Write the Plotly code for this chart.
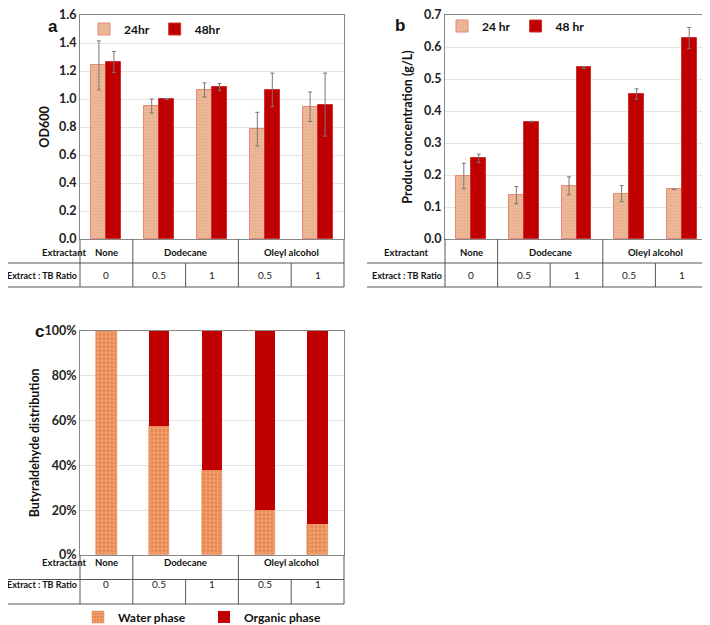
import plotly.graph_objects as go

# values
groups = [0, 1, 2, 3, 4]
extractants = ["None", "Dodecane", "Oleyl alcohol"]
extractant_pos = [0, 1.5, 3.5]
ratios = ["0", "0.5", "1", "0.5", "1"]

od_24 = [1.24, 0.95, 1.065, 0.785, 0.945]
od_24_err = [0.175, 0.05, 0.05, 0.12, 0.105]
od_48 = [1.265, 1.0, 1.085, 1.065, 0.96]
od_48_err = [0.075, 0.003, 0.025, 0.12, 0.225]

prod_24 = [0.197, 0.137, 0.166, 0.142, 0.155]
prod_24_err = [0.04, 0.027, 0.028, 0.025, 0.0]
prod_48 = [0.252, 0.367, 0.536, 0.453, 0.628]
prod_48_err = [0.013, 0.001, 0.003, 0.016, 0.033]

water = [100, 57.5, 38, 20.3, 14]
organic = [0, 42.5, 62, 79.7, 86]

# the page body has an 8px margin, so the figure is drawn 8px in from the window corner
OFF = 8
W, H = 710 - OFF, 625 - OFF
FONT = "Lato, 'Open Sans', sans-serif"
RED = "#C00000"

def px(x):
    return (x - OFF) / W

def py(y):
    return 1 - (y - OFF) / H

tan = dict(shape=".", fgcolor="#D9997A", bgcolor="#EDB897", size=3, solidity=0.25)
water_pat = dict(shape="+", fgcolor="#FAE2D2", bgcolor="#E8844A", size=4, solidity=0.35)
err = dict(type="data", color="#777", thickness=1, width=2)

fig = go.Figure()

# panel a
fig.add_trace(go.Bar(x=groups, y=od_24, name="24hr", offset=-0.284, width=0.284,
                     marker=dict(color="#EDB897", pattern=tan, line=dict(color="#E58A78", width=1)),
                     error_y=dict(array=od_24_err, **err), xaxis="x", yaxis="y", legend="legend"))
fig.add_trace(go.Bar(x=groups, y=od_48, name="48hr", offset=0, width=0.284,
                     marker=dict(color=RED, line=dict(color="#D03030", width=1)),
                     error_y=dict(array=od_48_err, **err), xaxis="x", yaxis="y", legend="legend"))

# panel b
fig.add_trace(go.Bar(x=groups, y=prod_24, name="24 hr", offset=-0.285, width=0.285,
                     marker=dict(color="#EDB897", pattern=tan, line=dict(color="#E58A78", width=1)),
                     error_y=dict(array=prod_24_err, **err), xaxis="x2", yaxis="y2", legend="legend2"))
fig.add_trace(go.Bar(x=groups, y=prod_48, name="48 hr", offset=0, width=0.285,
                     marker=dict(color=RED, line=dict(color="#D03030", width=1)),
                     error_y=dict(array=prod_48_err, **err), xaxis="x2", yaxis="y2", legend="legend2"))

# panel c (stacked via base)
fig.add_trace(go.Bar(x=groups, y=water, name="Water phase", width=0.385,
                     marker=dict(color="#E8844A", pattern=water_pat, line=dict(color="#E08050", width=0.5)),
                     xaxis="x3", yaxis="y3", legend="legend3"))
fig.add_trace(go.Bar(x=groups, y=organic, base=water, name="Organic phase", width=0.385,
                     marker=dict(color=RED, line=dict(width=0)),
                     xaxis="x3", yaxis="y3", legend="legend3"))

xa = dict(range=[-0.5, 4.5], showticklabels=False, ticks="", showgrid=False, zeroline=False,
          showline=True, linecolor="#888", mirror=True, fixedrange=True, automargin=False)
ya = dict(ticks="", showgrid=True, gridcolor="#E4E4E4", zeroline=False, showline=True, automargin=False,
          ticklabeloverflow="allow", linecolor="#888", mirror=True,
          tickfont=dict(size=12.5, color="#222", family=FONT, weight="bold"),
          title_font=dict(size=12.5, color="#111", family=FONT, weight="bold"))

dom_a = [px(80), px(344)]
dom_b = [px(445), px(708)]
lfont = dict(size=12, family=FONT, weight="bold")
fig.update_layout(
    width=W, height=H, margin=dict(l=0, r=0, t=0, b=0, autoexpand=False),
    paper_bgcolor="white", plot_bgcolor="white",
    font=dict(family=FONT, color="#111"),
    barmode="overlay", bargap=0,
    xaxis=dict(domain=dom_a, anchor="y", **xa),
    yaxis=dict(domain=[py(239), py(15)], anchor="x", range=[0, 1.6001], dtick=0.2, tickformat=".1f",
               title=dict(text="OD600", standoff=6), **ya),
    xaxis2=dict(domain=dom_b, anchor="y2", **xa),
    yaxis2=dict(domain=[py(239), py(15)], anchor="x2", range=[0, 0.70001], dtick=0.1, tickformat=".1f",
                title=dict(text="Product concentration (g/L)", standoff=8), **ya),
    xaxis3=dict(domain=dom_a, anchor="y3", **xa),
    yaxis3=dict(domain=[py(555), py(330.7)], anchor="x3", range=[0, 100.001], dtick=20, ticksuffix="%",
                title=dict(text="Butyraldehyde distribution", standoff=2), **ya),
    legend=dict(orientation="h", x=px(84), y=py(29), xanchor="left", yanchor="middle",
                font=lfont, bgcolor="rgba(0,0,0,0)"),
    legend2=dict(orientation="h", x=px(442), y=py(26), xanchor="left", yanchor="middle",
                 font=lfont, bgcolor="rgba(0,0,0,0)"),
    legend3=dict(orientation="h", x=px(78), y=py(617), xanchor="left", yanchor="middle",
                 entrywidth=81, font=lfont, bgcolor="rgba(0,0,0,0)"),
)

# panel letters
for txt, x, y in [("a", 46, 15), ("b", 400, 14), ("c", 33, 331)]:
    fig.add_annotation(text=txt, x=px(x), y=py(y), xref="paper", yref="paper", showarrow=False,
                       font=dict(size=17, family="Liberation Sans, Arial", color="#111", weight="bold"))


def add_table(xref, dom, left, y_top, row_h, dy=1):
    y1 = py(y_top + row_h)
    y2 = py(y_top + 2 * row_h)
    ytop = py(y_top)
    line = dict(color="#555", width=1)
    x0, x1 = dom
    step = (x1 - x0) / 5
    lx = max(px(left), 0)
    for y in (y1, y2):
        fig.add_shape(type="line", xref="paper", yref="paper", x0=lx, x1=x1, y0=y, y1=y, line=line)
    # full-height vertical separators
    for k in (0, 1, 3, 5):
        fig.add_shape(type="line", xref="paper", yref="paper", x0=x0 + k * step, x1=x0 + k * step,
                      y0=y2, y1=ytop, line=line)
    # second row only
    for k in (2, 4):
        fig.add_shape(type="line", xref="paper", yref="paper", x0=x0 + k * step, x1=x0 + k * step,
                      y0=y2, y1=y1, line=line)
    tf = dict(size=9.5, weight="bold", color="#111")
    row1 = (ytop + y1) / 2 - dy / H
    fig.add_annotation(text="Extractant", x=(px(left) + x0) / 2, y=row1, xref="paper",
                       yref="paper", showarrow=False, font=tf)
    fig.add_annotation(text="Extract : TB Ratio", x=x0 - px(OFF + 1), y=(y1 + y2) / 2, xref="paper",
                       yref="paper", xanchor="right", showarrow=False, font=dict(size=9, weight="bold", color="#111"))
    for name, pos in zip(extractants, extractant_pos):
        fig.add_annotation(text=name, x=pos, y=row1, xref=xref, yref="paper",
                           showarrow=False, font=tf)
    for g, r in zip(groups, ratios):
        fig.add_annotation(text=r, x=g, y=(y1 + y2) / 2, xref=xref, yref="paper",
                           showarrow=False, font=dict(size=10, color="#222"))


add_table("x", dom_a, 0, 239, 24)
add_table("x2", dom_b, 367, 239, 24)
add_table("x3", dom_a, 0, 555, 24.5, dy=3)

fig.write_html("out.html")
